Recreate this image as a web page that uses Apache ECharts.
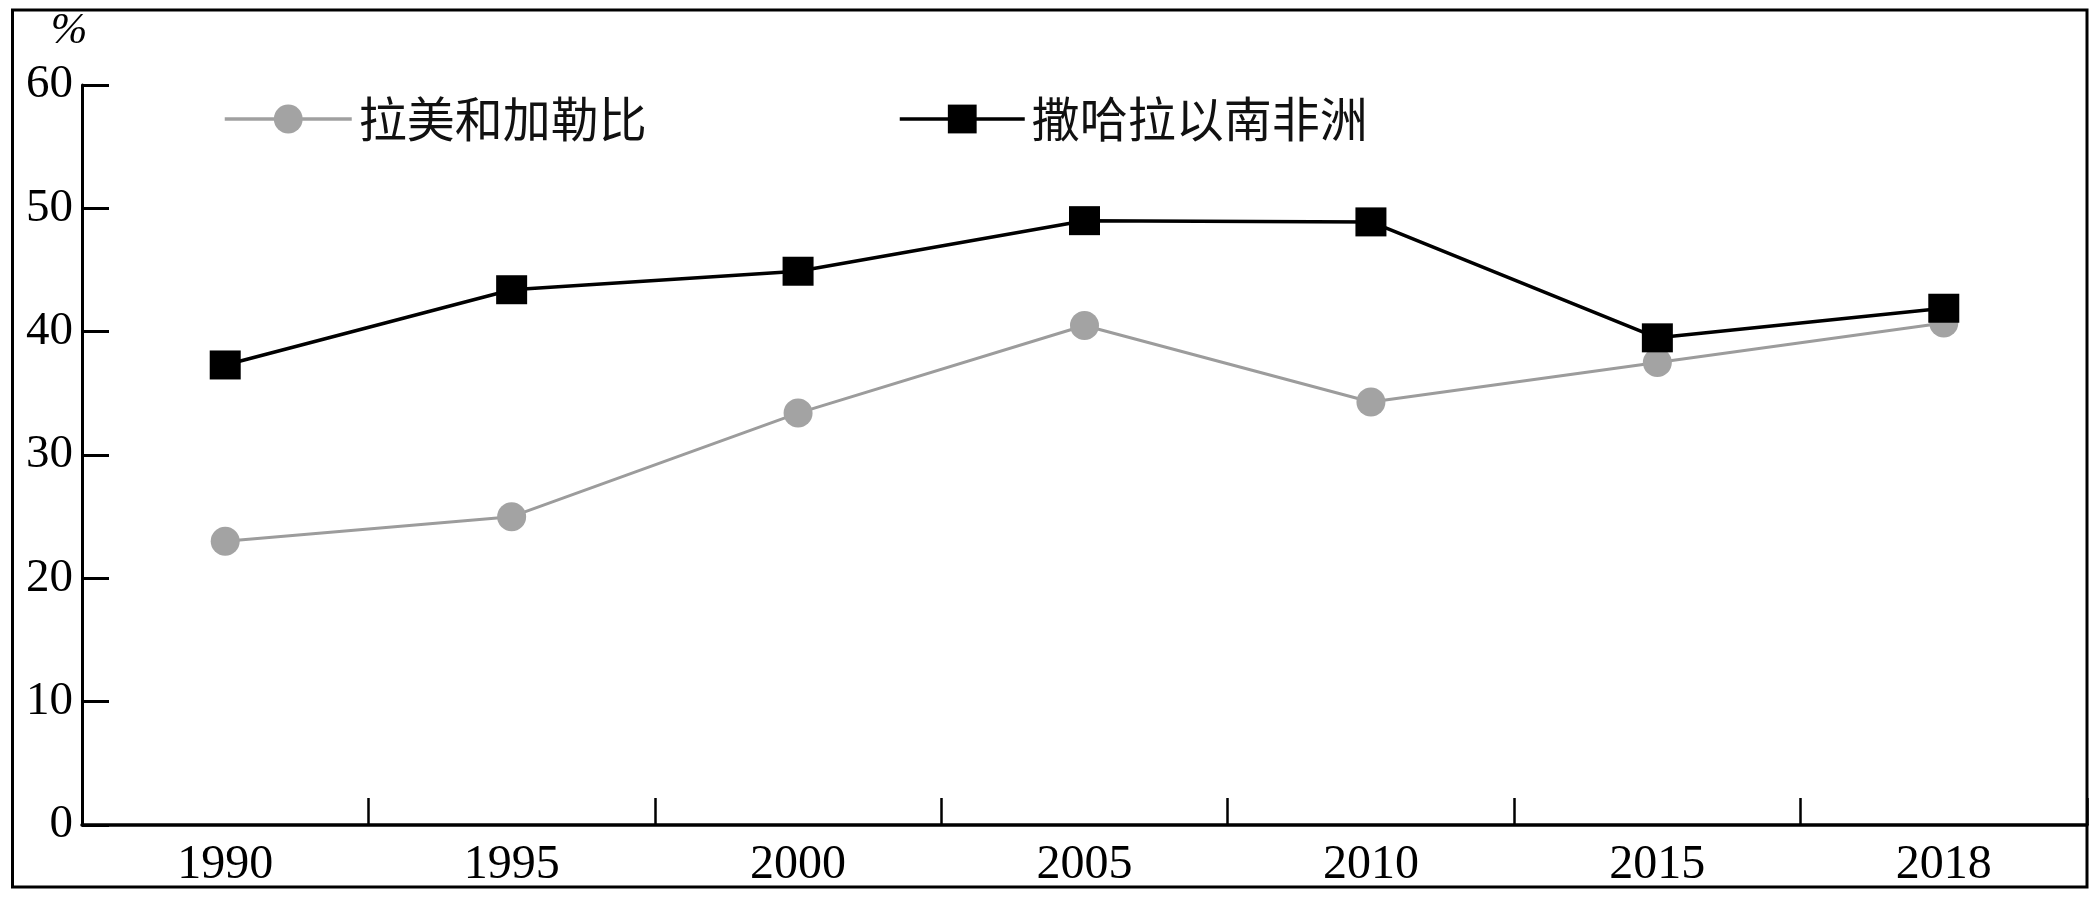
<!DOCTYPE html>
<html>
<head>
<meta charset="utf-8">
<script src="https://cdn.jsdelivr.net/npm/echarts@6/dist/echarts.min.js"></script>
<style>
html,body{margin:0;padding:0;background:#fff;}
#chart{width:2100px;height:897px;}
</style>
</head>
<body>
<div id="chart"></div>
<script>
var years = ['1990','1995','2000','2005','2010','2015','2018'];
var latamName = '拉美和加勒比';
var ssaName = '撒哈拉以南非洲';
var latamValues = [23.0, 25.0, 33.4, 40.5, 34.3, 37.5, 40.7];
var ssaValues = [37.3, 43.4, 44.9, 49.0, 48.9, 39.5, 41.9];
var yTicks = [0, 10, 20, 30, 40, 50, 60];

var serif = '"Liberation Serif", "Times New Roman", serif';
var cjk = '"Noto Sans CJK SC", sans-serif';

var chart = echarts.init(document.getElementById('chart'));
chart.setOption({
  animation: false,
  backgroundColor: '#fff',
  graphic: [{
    type: 'rect',
    shape: {x: 12.5, y: 10, width: 2074.5, height: 877},
    style: {fill: 'none', stroke: '#000', lineWidth: 3},
    silent: true
  }],
  legend: [{
    data: [latamName],
    left: 218, top: 90,
    itemWidth: 127, itemHeight: 36,
    lineStyle: {width: 3.5, color: '#a0a0a0'},
    textStyle: {fontFamily: cjk, fontSize: 48, color: '#111', lineHeight: 48, padding: [0,0,0,2]}
  }, {
    data: [ssaName],
    left: 893, top: 90,
    itemWidth: 125, itemHeight: 36,
    lineStyle: {width: 3.5},
    textStyle: {fontFamily: cjk, fontSize: 48, color: '#111', lineHeight: 48, padding: [0,0,0,2]}
  }],
  grid: {left: 82, right: 13, top: 85, bottom: 72, containLabel: false},
  xAxis: {
    type: 'category',
    data: years,
    boundaryGap: true,
    axisLine: {show: true, lineStyle: {color: '#000', width: 3.5}},
    axisTick: {show: true, interval: 0, inside: true, length: 27, lineStyle: {color: '#000', width: 2.5}},
    axisLabel: {fontFamily: serif, fontSize: 48, color: '#000', margin: 16},
    splitLine: {show: false}
  },
  yAxis: {
    type: 'value',
    min: yTicks[0], max: yTicks[yTicks.length - 1], interval: 10,
    name: '%',
    nameLocation: 'end',
    nameGap: 32,
    nameTextStyle: {fontFamily: serif, fontSize: 44, color: '#000', align: 'center', padding: [0, 26, 0, 0], fontStyle: 'italic'},
    axisLine: {show: true, lineStyle: {color: '#000', width: 3}},
    axisTick: {show: true, inside: true, length: 27, lineStyle: {color: '#000', width: 3}},
    axisLabel: {fontFamily: serif, fontSize: 47, color: '#000', margin: 9},
    splitLine: {show: false}
  },
  series: [{
    name: latamName,
    type: 'line',
    data: latamValues,
    symbol: 'circle',
    symbolSize: 29,
    lineStyle: {color: '#9c9c9c', width: 3},
    itemStyle: {color: '#a3a3a3'},
    z: 2
  }, {
    name: ssaName,
    type: 'line',
    data: ssaValues,
    symbol: 'rect',
    symbolSize: [31, 29],
    lineStyle: {color: '#000', width: 3.5},
    itemStyle: {color: '#000'},
    z: 3
  }]
});
</script>
</body>
</html>
